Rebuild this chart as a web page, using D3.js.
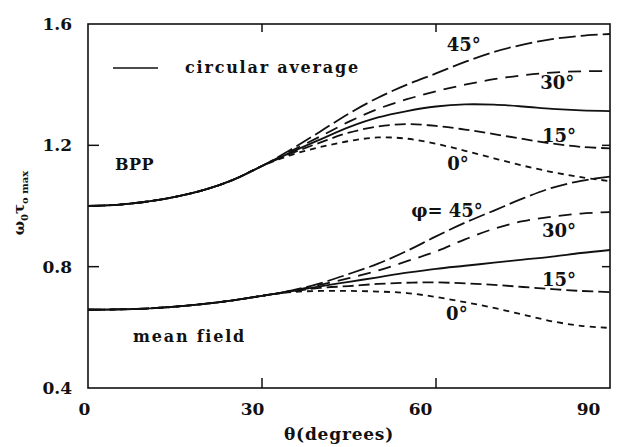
<!DOCTYPE html>
<html><head><meta charset="utf-8">
<script src="https://cdn.jsdelivr.net/npm/d3@7"></script>
<style>
body{margin:0;background:#fff;}
svg{display:block;}
text{font-family:"DejaVu Serif",serif;font-weight:bold;fill:#111;}
</style></head>
<body><svg id="c" width="624" height="447"></svg>
<script>
// ---- data ----
const theta = [0,5,10,15,20,25,30,35,40,45,50,55,60,65,70,75,80,85,90];
const xTicks = [0,30,60,90];
const yTicks = [0.4,0.8,1.2,1.6];
const yTickLabels = ["0.4","0.8","1.2","1.6"];
// BPP (upper group)
const bpp45   = [1.000,1.004,1.014,1.030,1.053,1.086,1.132,1.186,1.245,1.305,1.357,1.400,1.437,1.475,1.508,1.532,1.550,1.561,1.567];
const bpp30   = [1.000,1.004,1.014,1.030,1.053,1.086,1.132,1.181,1.229,1.278,1.320,1.352,1.378,1.400,1.418,1.431,1.440,1.444,1.445];
const bppCirc = [1.000,1.004,1.014,1.030,1.053,1.086,1.132,1.177,1.219,1.260,1.292,1.313,1.328,1.335,1.334,1.328,1.320,1.315,1.313];
const bpp15   = [1.000,1.004,1.014,1.030,1.053,1.086,1.132,1.173,1.209,1.242,1.262,1.270,1.264,1.252,1.237,1.221,1.206,1.195,1.190];
const bpp0    = [1.000,1.004,1.014,1.030,1.053,1.086,1.132,1.168,1.194,1.214,1.226,1.222,1.205,1.182,1.157,1.133,1.112,1.095,1.082];
// mean field (lower group)
const mf45    = [0.658,0.659,0.662,0.668,0.677,0.689,0.704,0.721,0.745,0.776,0.810,0.852,0.900,0.945,0.985,1.025,1.060,1.083,1.097];
const mf30    = [0.658,0.659,0.662,0.668,0.677,0.689,0.704,0.720,0.740,0.762,0.787,0.818,0.850,0.890,0.925,0.950,0.965,0.975,0.980];
const mfCirc  = [0.658,0.659,0.662,0.668,0.677,0.689,0.704,0.719,0.735,0.750,0.765,0.780,0.793,0.803,0.813,0.823,0.833,0.845,0.855];
const mf15    = [0.658,0.659,0.662,0.668,0.677,0.689,0.704,0.718,0.730,0.736,0.743,0.747,0.748,0.745,0.740,0.733,0.726,0.720,0.716];
const mf0     = [0.658,0.659,0.662,0.668,0.677,0.689,0.704,0.716,0.720,0.720,0.718,0.713,0.700,0.683,0.664,0.642,0.620,0.605,0.598];
const seriesNames = ["45°","30°","circular average","15°","0°"];
const dashes = {"45°":"17,5","30°":"13,8","circular average":null,"15°":"11,5","0°":"6,5"};
// curve labels: [text, theta, value]
const labelsUpper = [["45°",64.8,1.511],["30°",80.9,1.386],["15°",81.2,1.211],["0°",63.8,1.119]];
const labelsLower = [["φ= 45°",61.9,0.964],["30°",81.2,0.898],["15°",81.2,0.736],["0°",63.6,0.624]];

// ---- layout ----
const svg = d3.select("#c");
const M = {l:88, t:24, r:610, b:388};
const x = d3.scaleLinear().domain([0,90]).range([M.l,M.r]);
const y = d3.scaleLinear().domain([0.4,1.6]).range([M.b,M.t]);

// frame
svg.append("rect").attr("x",M.l).attr("y",M.t).attr("width",M.r-M.l).attr("height",M.b-M.t)
  .attr("fill","none").attr("stroke","#111").attr("stroke-width",1.6);

// inner ticks
const innerX = xTicks.filter(d=>d>0&&d<90), innerY = yTicks.filter(d=>d>0.4&&d<1.6);
innerX.forEach(v=>{
  svg.append("line").attr("x1",x(v)).attr("x2",x(v)).attr("y1",M.b).attr("y2",M.b-10).attr("stroke","#111").attr("stroke-width",1.5);
  svg.append("line").attr("x1",x(v)).attr("x2",x(v)).attr("y1",M.t).attr("y2",M.t+8).attr("stroke","#111").attr("stroke-width",1.5);
});
innerY.forEach(v=>{
  svg.append("line").attr("x1",M.l).attr("x2",M.l+11).attr("y1",y(v)).attr("y2",y(v)).attr("stroke","#111").attr("stroke-width",1.5);
  svg.append("line").attr("x1",M.r).attr("x2",M.r-8).attr("y1",y(v)).attr("y2",y(v)).attr("stroke","#111").attr("stroke-width",1.5);
});

// axes labels via d3 axes
const gx = svg.append("g").attr("transform",`translate(0,${M.b})`)
  .call(d3.axisBottom(x).tickValues(xTicks).tickSize(0).tickPadding(15).tickFormat(d3.format("d")));
gx.select(".domain").remove();
gx.selectAll("text").attr("font-size",17).attr("font-family","DejaVu Serif").attr("font-weight","bold")
  .attr("fill","#111").attr("dx",d=>-(4+d*0.2));
const gy = svg.append("g").attr("transform",`translate(${M.l},0)`)
  .call(d3.axisLeft(y).tickValues(yTicks).tickSize(0).tickPadding(16).tickFormat((d,i)=>yTickLabels[i]));
gy.select(".domain").remove();
gy.selectAll("text").attr("font-size",17).attr("font-family","DejaVu Serif").attr("font-weight","bold").attr("fill","#111");

// axis titles
svg.append("text").attr("x",339).attr("y",440).attr("text-anchor","middle").attr("font-size",17)
  .style("letter-spacing","0.8px").text("θ(degrees)");
const yt = svg.append("text").attr("transform","translate(24,203) rotate(-90)").attr("text-anchor","middle").attr("font-size",15);
yt.append("tspan").text("ω");
yt.append("tspan").attr("font-size",10).attr("dy",4).text("0");
yt.append("tspan").attr("dy",-4).text("τ");
yt.append("tspan").attr("font-size",10).attr("dy",4).text("o max");

// curves
const line = d3.line().x((d,i)=>x(theta[i])).y(d=>y(d)).curve(d3.curveCatmullRom.alpha(0.5));
const groups = [[bpp45,bpp30,bppCirc,bpp15,bpp0],[mf45,mf30,mfCirc,mf15,mf0]];
groups.forEach(g=>g.forEach((s,k)=>{
  svg.append("path").attr("d",line(s)).attr("fill","none").attr("stroke","#111")
    .attr("stroke-width",1.8).attr("stroke-dasharray",dashes[seriesNames[k]]);
}));

// curve labels
labelsUpper.concat(labelsLower).forEach(([t,a,v])=>{
  svg.append("text").attr("x",x(a)).attr("y",y(v)).attr("text-anchor","middle").attr("font-size",18).text(t);
});

// legend
svg.append("line").attr("x1",113).attr("x2",158).attr("y1",68).attr("y2",68).attr("stroke","#111").attr("stroke-width",1.5);
svg.append("text").attr("x",185).attr("y",73).attr("font-size",16).style("letter-spacing","1.8px").text(seriesNames[2]);
// group labels
svg.append("text").attr("x",115).attr("y",170).attr("font-size",16).style("letter-spacing","0.5px").text("BPP");
svg.append("text").attr("x",133).attr("y",342).attr("font-size",16).style("letter-spacing","1.8px").text("mean field");
</script></body></html>
